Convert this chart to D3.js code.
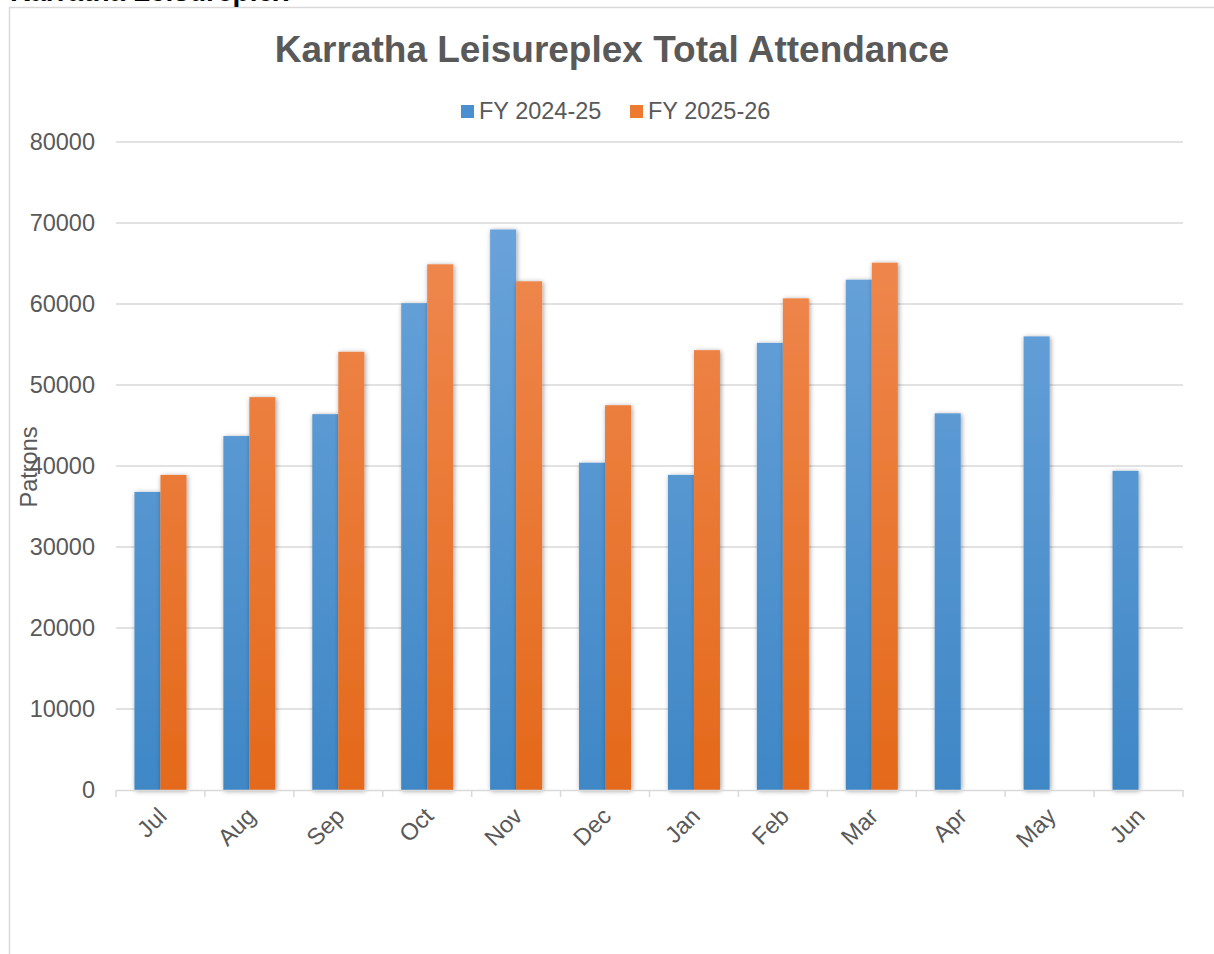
<!DOCTYPE html>
<html>
<head>
<meta charset="utf-8">
<script src="https://cdn.jsdelivr.net/npm/d3@7"></script>
<style>
  body { margin: 0; background: #fff; }
  svg { display: block; font-family: "Liberation Sans", Arial, sans-serif; }
</style>
</head>
<body>
<svg id="chart" width="1214" height="954"></svg>
<script>
// chart data
const months = ['Jul', 'Aug', 'Sep', 'Oct', 'Nov', 'Dec', 'Jan', 'Feb', 'Mar', 'Apr', 'May', 'Jun'];
const seriesNames = ['FY 2024-25', 'FY 2025-26'];
const fy2425 = [36800, 43700, 46400, 60100, 69200, 40400, 38900, 55200, 63000, 46500, 56000, 39400];
const fy2526 = [38900, 48500, 54100, 64900, 62800, 47500, 54300, 60700, 65100, null, null, null];
const yTicks = [0, 10000, 20000, 30000, 40000, 50000, 60000, 70000, 80000];

const svg = d3.select('#chart');
const textColor = '#595959';
const gridColor = '#d9d9d9';

const margin = { left: 116, right: 1183, top: 142, bottom: 790 };

const x = d3.scaleBand()
  .domain(months)
  .range([margin.left, margin.right]);

const y = d3.scaleLinear()
  .domain([0, 80000])
  .range([margin.bottom, margin.top]);

// bars inside each month group
const groupW = x.bandwidth() * 0.585;
const x1 = d3.scaleBand()
  .domain(seriesNames)
  .range([(x.bandwidth() - groupW) / 2, (x.bandwidth() + groupW) / 2]);

const defs = svg.append('defs');

const grads = [
  { id: 'gBlue', top: '#70a7dd', bottom: '#3f87c6' },
  { id: 'gOrange', top: '#f18d58', bottom: '#e4691a' }
];
grads.forEach(g => {
  const lg = defs.append('linearGradient')
    .attr('id', g.id)
    .attr('gradientUnits', 'userSpaceOnUse')
    .attr('x1', 0).attr('y1', y(80000))
    .attr('x2', 0).attr('y2', y(0));
  lg.append('stop').attr('offset', '0%').attr('stop-color', g.top);
  lg.append('stop').attr('offset', '100%').attr('stop-color', g.bottom);
});

const shadow = defs.append('filter')
  .attr('id', 'shadow')
  .attr('x', '-30%').attr('y', '-10%')
  .attr('width', '160%').attr('height', '120%');
shadow.append('feDropShadow')
  .attr('dx', 1).attr('dy', 1)
  .attr('stdDeviation', 2.5)
  .attr('flood-color', '#000')
  .attr('flood-opacity', 0.4);

// outer chart frame (partly cut off by the window)
svg.append('path')
  .attr('d', 'M9.5,960 L9.5,7.5 L1220,7.5')
  .attr('fill', 'none')
  .attr('stroke', gridColor)
  .attr('stroke-width', 1.5);

// cut-off heading above the frame
svg.append('text')
  .attr('x', 10)
  .attr('y', 1)
  .attr('font-size', 28)
  .attr('font-weight', 'bold')
  .attr('fill', '#000')
  .text('Karratha Leisureplex');

// title
svg.append('text')
  .attr('x', 612)
  .attr('y', 62)
  .attr('text-anchor', 'middle')
  .attr('font-size', 37)
  .attr('font-weight', 'bold')
  .attr('fill', textColor)
  .text('Karratha Leisureplex Total Attendance');

// legend
const legendItems = [
  { name: seriesNames[0], sw: '#4a8fd0', x: 461 },
  { name: seriesNames[1], sw: '#ec7a31', x: 630 }
];
const legend = svg.append('g').attr('class', 'legend');
legendItems.forEach(item => {
  legend.append('rect')
    .attr('x', item.x)
    .attr('y', 105)
    .attr('width', 13)
    .attr('height', 13)
    .attr('fill', item.sw);
  legend.append('text')
    .attr('x', item.x + 18)
    .attr('y', 119)
    .attr('font-size', 23.5)
    .attr('fill', textColor)
    .text(item.name);
});

// grid lines
svg.append('g')
  .attr('class', 'grid')
  .selectAll('line')
  .data(yTicks.filter(d => d > 0))
  .enter()
  .append('line')
  .attr('x1', margin.left)
  .attr('x2', margin.right)
  .attr('y1', d => y(d))
  .attr('y2', d => y(d))
  .attr('stroke', gridColor)
  .attr('stroke-width', 1.5);

// y axis labels
svg.append('g')
  .attr('class', 'y-labels')
  .selectAll('text')
  .data(yTicks)
  .enter()
  .append('text')
  .attr('x', 95)
  .attr('y', d => y(d))
  .attr('dy', '0.35em')
  .attr('text-anchor', 'end')
  .attr('font-size', 23.5)
  .attr('fill', textColor)
  .text(d => d);

// bars
const rows = months.map((m, i) => ({ month: m, values: [fy2425[i], fy2526[i]] }));
const fills = ['url(#gBlue)', 'url(#gOrange)'];

const groups = svg.append('g')
  .attr('class', 'bars')
  .selectAll('g')
  .data(rows)
  .enter()
  .append('g')
  .attr('transform', d => `translate(${x(d.month)},0)`);

groups.selectAll('rect')
  .data(d => d.values.map((v, i) => ({ name: seriesNames[i], value: v, i })).filter(d => d.value != null))
  .enter()
  .append('rect')
  .attr('x', d => x1(d.name))
  .attr('y', d => y(d.value))
  .attr('width', x1.bandwidth())
  .attr('height', d => y(0) - y(d.value))
  .attr('fill', d => fills[d.i])
  .attr('filter', 'url(#shadow)');

// x axis
const xAxis = svg.append('g')
  .attr('class', 'x-axis')
  .attr('transform', `translate(0,${margin.bottom})`)
  .call(d3.axisBottom(x).tickSize(0).tickFormat(''));
xAxis.select('.domain')
  .attr('stroke', gridColor)
  .attr('stroke-width', 1.5);

// ticks at category boundaries
const bounds = months.map(m => x(m)).concat([margin.right]);
xAxis.selectAll('.bound')
  .data(bounds)
  .enter()
  .append('line')
  .attr('class', 'bound')
  .attr('x1', d => d)
  .attr('x2', d => d)
  .attr('y1', 0)
  .attr('y2', 7)
  .attr('stroke', gridColor)
  .attr('stroke-width', 1.5);

// rotated month labels
svg.append('g')
  .attr('class', 'x-labels')
  .selectAll('text')
  .data(months)
  .enter()
  .append('text')
  .attr('transform', d => `translate(${x(d) + x.bandwidth() / 2 - 4},${margin.bottom + 16}) rotate(-45)`)
  .attr('text-anchor', 'end')
  .attr('dy', '0.7em')
  .attr('font-size', 23.5)
  .attr('fill', textColor)
  .text(d => d);

// y axis title
svg.append('text')
  .attr('transform', 'translate(37,467) rotate(-90)')
  .attr('text-anchor', 'middle')
  .attr('font-size', 23.5)
  .attr('fill', textColor)
  .text('Patrons');
</script>
</body>
</html>
